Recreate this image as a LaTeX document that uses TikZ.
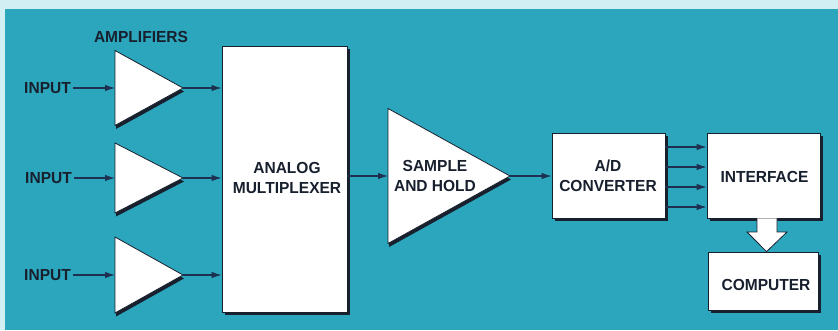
\documentclass[tikz,border=0pt]{standalone}
\usepackage{fontspec}
\setmainfont{Liberation Sans}[FakeStretch=0.97]
\usetikzlibrary{shapes.geometric,shadows,arrows.meta}
\definecolor{teal1}{HTML}{2BA6BD}
\definecolor{strip}{HTML}{D2EFF3}
\definecolor{ink}{HTML}{18202E}
\definecolor{wire}{HTML}{1E3050}
\begin{document}
\begin{tikzpicture}[x=1pt,y=-1pt,
  lab/.style={font=\fontsize{16}{20}\selectfont\bfseries, text=ink, inner sep=0pt, align=center},
  shad/.style={drop shadow={shadow xshift=3pt, shadow yshift=-3pt, fill=ink, opacity=1}},
  blk/.style={draw=ink, line width=0.8pt, fill=white, inner sep=0pt, shad},
  amp/.style={isosceles triangle, isosceles triangle stretches, shape border rotate=0,
    draw=ink, line width=0.8pt, fill=white, inner sep=0pt, outer sep=0pt, anchor=lower side,
    drop shadow={shadow xshift=1pt, shadow yshift=-3.5pt, fill=ink, opacity=1}},
  wr/.style={draw=wire, line width=1.1pt, -{Latex[length=10pt,width=6.5pt]}}
  ]
\useasboundingbox (0,0) rectangle (838,330);
\fill[strip] (0,0) rectangle (838,330);
\fill[teal1] (5,9) rectangle (838,330);

\node[lab] (amplab) at (141,37) {AMPLIFIERS};

% note: for this shape, minimum height runs along the apex axis
\node[amp, minimum height=68pt, minimum width=75pt] (a1) at (115,88) {};
\node[amp, minimum height=68pt, minimum width=70pt] (a2) at (115,178) {};
\node[amp, minimum height=68pt, minimum width=76pt] (a3) at (115,275) {};

\node[lab, anchor=east] (i1) at (71,88) {INPUT};
\node[lab, anchor=east] (i2) at (72,178) {INPUT};
\node[lab, anchor=east] (i3) at (71,275) {INPUT};

\node[blk, minimum width=125pt, minimum height=266pt] (mux) at (284.5,179) {};
\node[lab] (muxt) at (287,178) {ANALOG\\MULTIPLEXER};

\node[amp, minimum height=122pt, minimum width=135pt] (sh) at (388,176) {};
\node[lab] (sht) at (435,176) {SAMPLE\\AND HOLD};

\node[blk, minimum width=113pt, minimum height=85pt] (ad) at (608.5,175.5) {};
\node[lab] (adt) at (608,176) {A/D\\CONVERTER};

\node[blk, minimum width=113pt, minimum height=85pt] (intf) at (763.5,175.5) {};
\node[lab] (intft) at (764.5,177) {INTERFACE};

\node[blk, minimum width=110pt, minimum height=58pt] (comp) at (763,281) {};
\node[lab] (compt) at (766,285) {COMPUTER};

% input wires
\draw[wr] (i1.east) ++(2,0) -- (a1.lower side);
\draw[wr] (i2.east) ++(2,0) -- (a2.lower side);
\draw[wr] (i3.east) ++(2,0) -- (a3.lower side);
% amp to mux
\draw[wr] (a1.apex) -- (a1.apex -| mux.west);
\draw[wr] (a2.apex) -- (a2.apex -| mux.west);
\draw[wr] (a3.apex) -- (a3.apex -| mux.west);
% mux to S&H, S&H to A/D
\draw[wr] (sh.lower side -| mux.east) -- (sh.lower side);
\draw[wr] (sh.apex) -- (sh.apex -| ad.west);
% A/D to interface
\foreach \yy in {147,167,187,207}{
  \draw[wr] (ad.east |- 0,\yy) -- (intf.west |- 0,\yy);
}
% block arrow interface -> computer
\coordinate (bt) at ([xshift=3.5pt]intf.south);
\coordinate (bb) at ([xshift=3.5pt]comp.north);
\draw[ink, line width=0.8pt, fill=white]
  ([xshift=-10pt]bt) -- ([xshift=-10pt]bt |- 0,232) -- ([xshift=-20pt]bt |- 0,232)
  -- (bb) -- ([xshift=20pt]bt |- 0,232) -- ([xshift=10pt]bt |- 0,232) -- ([xshift=10pt]bt);
\end{tikzpicture}
\end{document}
